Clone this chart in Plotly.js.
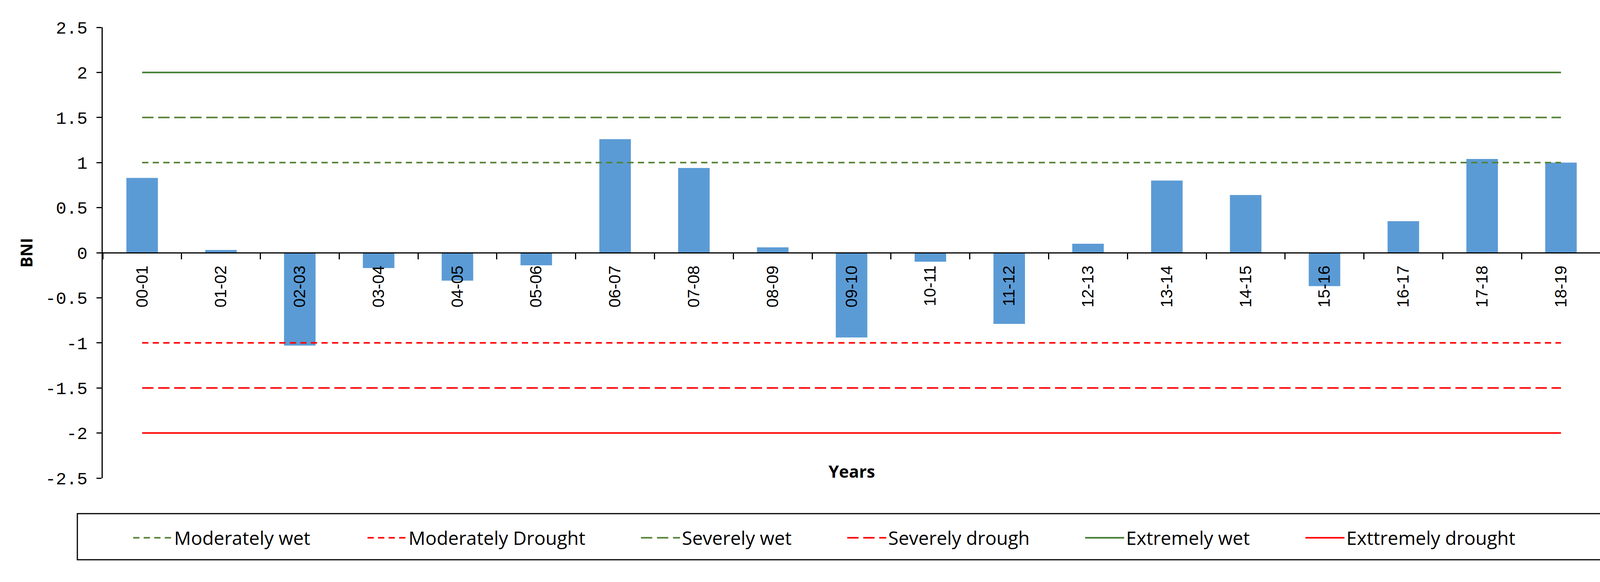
<!DOCTYPE html>
<html>
<head>
<meta charset="utf-8">
<script src="https://cdn.plot.ly/plotly-3.0.1.min.js"></script>
<style>html,body{margin:0;padding:0;background:#fff;}</style>
</head>
<body>
<div id="chart" style="width:4201px;height:1490px;"></div>
<script>
const categories = ['00-01','01-02','02-03','03-04','04-05','05-06','06-07','07-08','08-09','09-10',
                    '10-11','11-12','12-13','13-14','14-15','15-16','16-17','17-18','18-19'];
const bniValues = [0.83, 0.03, -1.03, -0.17, -0.31, -0.14, 1.26, 0.94, 0.06, -0.94,
                   -0.10, -0.79, 0.10, 0.80, 0.64, -0.37, 0.35, 1.04, 1.00];
const thresholdNames = ['Moderately wet','Moderately Drought','Severely wet','Severely drough','Extremely wet','Exttremely drought'];
const thresholdValues = [1, -1, 1.5, -1.5, 2, -2];
const thresholdColors = ['#548235','#ff0000','#548235','#ff0000','#3f7a2c','#ff0000'];
const thresholdDashes = ['16px,11px','16px,11px','29px,12px','29px,12px','solid','solid'];
const legendEntryWidths = [485, 585, 413, 494, 449, 440];
const yTickValues = [2.5, 2, 1.5, 1, 0.5, 0, -0.5, -1, -1.5, -2, -2.5];
const yTickLabels = ['2.5','2','1.5','1','0.5','0','-0.5','-1','-1.5','-2','-2.5'];

const traces = [{
  type: 'bar',
  x: categories,
  y: bniValues,
  marker: {color: '#5B9BD5'},
  showlegend: false,
  hoverinfo: 'x+y'
}];
thresholdNames.forEach((name, i) => {
  traces.push({
    type: 'scatter',
    mode: 'lines',
    name: name,
    legendwidth: legendEntryWidths[i],
    x: [categories[0], categories[categories.length - 1]],
    y: [thresholdValues[i], thresholdValues[i]],
    line: {color: thresholdColors[i], width: 4, dash: thresholdDashes[i]}
  });
});

const layout = {
  width: 4201,
  height: 1490,
  margin: {l: 263, r: 104, t: 70, b: 266, autoexpand: false},
  paper_bgcolor: '#ffffff',
  plot_bgcolor: '#ffffff',
  bargap: 0.6,
  showlegend: true,
  xaxis: {
    type: 'category',
    range: [-0.5, categories.length - 0.5],
    anchor: 'free',
    position: 0.5,
    showline: true,
    linecolor: '#000000',
    linewidth: 3,
    ticks: 'outside',
    tickson: 'boundaries',
    ticklen: 15,
    tickwidth: 3,
    tickcolor: '#000000',
    tickangle: -90,
    ticklabelstandoff: 14,
    tickfont: {family: 'Liberation Sans, Arial, sans-serif', size: 42, color: '#000000'},
    showgrid: false,
    zeroline: false
  },
  yaxis: {
    range: [-2.5, 2.5],
    tickvals: yTickValues,
    ticktext: yTickLabels,
    showline: true,
    linecolor: '#000000',
    linewidth: 3,
    ticks: 'outside',
    ticklen: 13,
    tickwidth: 3,
    tickcolor: '#000000',
    ticklabelstandoff: 14,
    tickfont: {family: 'Liberation Mono, DejaVu Sans Mono, monospace', size: 45, color: '#000000'},
    showgrid: false,
    zeroline: false,
    title: {text: 'BNI', standoff: 20, font: {family: 'Open Sans, sans-serif', size: 42, color: '#000000', weight: 'bold'}}
  },
  legend: {
    orientation: 'h',
    x: 0.019,
    y: -0.1326,
    xanchor: 'left',
    yanchor: 'middle',
    borderwidth: 0,
    bgcolor: 'rgba(0,0,0,0)',
    itemwidth: 100,
    font: {family: 'Open Sans, sans-serif', size: 48, color: '#000000'}
  },
  shapes: [{
    type: 'rect',
    xref: 'paper', yref: 'paper',
    x0: -0.01695, x1: 1.01043,
    y0: -0.1811, y1: -0.0789,
    line: {color: '#000000', width: 3},
    fillcolor: 'rgba(0,0,0,0)',
    layer: 'below'
  }],
  annotations: [{
    text: 'Years',
    xref: 'paper', yref: 'paper',
    x: 0.5, y: 0.015,
    xanchor: 'center', yanchor: 'middle',
    showarrow: false,
    font: {family: 'Open Sans, sans-serif', size: 43, color: '#000000', weight: 'bold'}
  }]
};

Plotly.newPlot('chart', traces, layout, {displayModeBar: false, staticPlot: true});
</script>
</body>
</html>
